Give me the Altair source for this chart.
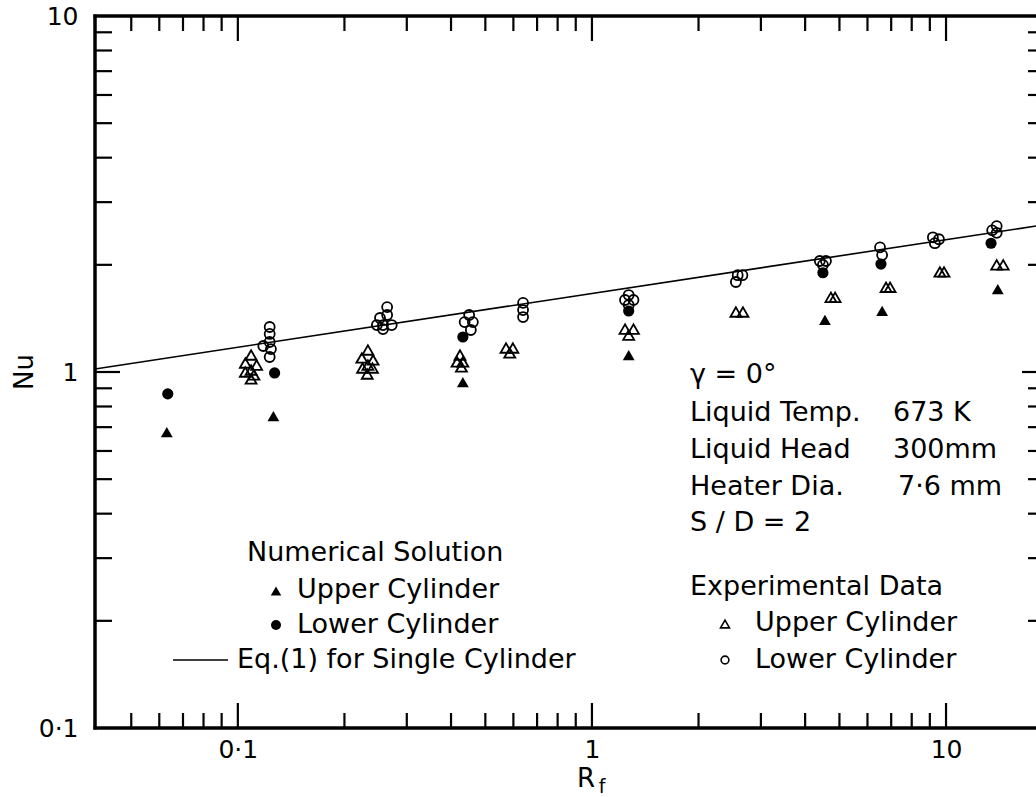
import altair as alt
import pandas as pd

# ---- data: Nu vs Rf, S/D = 2 ----
exp_upper_rf = [0.109, 0.105, 0.113, 0.109, 0.105, 0.111, 0.109,
                0.233, 0.224, 0.241, 0.233, 0.225, 0.240, 0.232,
                0.424, 0.416, 0.432, 0.428,
                0.572, 0.598, 0.586,
                1.24, 1.31, 1.27,
                2.55, 2.67,
                4.73, 4.86,
                6.77, 6.95,
                9.61, 9.87,
                13.9, 14.5]
exp_upper_nu = [1.116, 1.060, 1.046, 1.013, 1.000, 0.981, 0.956,
                1.153, 1.095, 1.081, 1.046, 1.026, 1.026, 0.987,
                1.116, 1.067, 1.067, 1.033,
                1.168, 1.168, 1.131,
                1.32, 1.32, 1.27,
                1.474, 1.474,
                1.62, 1.62,
                1.73, 1.73,
                1.91, 1.91,
                2.00, 2.00]

exp_lower_rf = [0.123, 0.123, 0.123, 0.118, 0.124, 0.123,
                0.264, 0.264, 0.252, 0.247, 0.257, 0.272, 0.257,
                0.450, 0.437, 0.461, 0.455,
                0.639, 0.639, 0.639,
                1.27, 1.24, 1.31, 1.27,
                2.58, 2.66, 2.55,
                4.40, 4.58, 4.49,
                6.51, 6.60,
                9.18, 9.55, 9.30,
                13.5, 13.9, 13.9]
exp_lower_nu = [1.338, 1.279, 1.214, 1.183, 1.160, 1.102,
                1.522, 1.446, 1.418, 1.355, 1.355, 1.355, 1.320,
                1.446, 1.381, 1.381, 1.312,
                1.563, 1.493, 1.427,
                1.645, 1.593, 1.593, 1.542,
                1.87, 1.87, 1.79,
                2.05, 2.05, 2.00,
                2.24, 2.13,
                2.39, 2.36, 2.30,
                2.50, 2.57, 2.46]

num_upper_rf = [0.063, 0.126, 0.432, 1.27, 4.55, 6.60, 14.0]
num_upper_nu = [0.678, 0.752, 0.937, 1.116, 1.40, 1.484, 1.71]

num_lower_rf = [0.0634, 0.127, 0.432, 1.27, 4.49, 6.55, 13.4]
num_lower_nu = [0.868, 0.994, 1.254, 1.484, 1.90, 2.01, 2.30]

# Eq.(1) for a single cylinder (straight line on log-log axes)
eq1_rf = [0.0395, 17.95]
eq1_nu = [1.02, 2.57]

# axis ticks
x_minor = [0.05, 0.06, 0.07, 0.08, 0.09,
           0.2, 0.3, 0.4, 0.5, 0.6, 0.7, 0.8, 0.9,
           2, 3, 4, 5, 6, 7, 8, 9]
x_major = [0.1, 1, 10]
y_minor = [0.2, 0.3, 0.4, 0.5, 0.6, 0.7, 0.8, 0.9,
           2, 3, 4, 5, 6, 7, 8, 9]
y_major = [1]
tick_values = [0.1, 1, 10]

# ---- layout ----
W, H = 941, 712
LEFT, TOP = 95, 16
FONT = "DejaVu Sans"

xs = alt.Scale(type="log", domain=[0.0395, 17.95], nice=False)
ys = alt.Scale(type="log", domain=[0.1, 10], nice=False)

label_expr = "datum.value < 0.5 ? '0·1' : (datum.value < 5 ? '1' : '10')"

x_axis = alt.Axis(values=tick_values, labelExpr=label_expr, ticks=False, tickSize=0,
                  domain=False, grid=False, labelPadding=9, labelFontSize=25,
                  labelFont=FONT, labelColor="black", title=None, labelFlush=False,
                  labelOverlap=False, labelBaseline="top")
y_axis = alt.Axis(values=tick_values, labelExpr=label_expr, ticks=False, tickSize=0,
                  domain=False, grid=False, labelPadding=17, labelFontSize=25,
                  labelFont=FONT, labelColor="black", title=None, labelFlush=False,
                  labelOverlap=False, labelAlign="right", labelBaseline="middle")


def X():
    return alt.X("rf:Q", scale=xs, axis=x_axis)


def Y():
    return alt.Y("nu:Q", scale=ys, axis=y_axis)


def frame(rf, nu):
    return pd.DataFrame({"rf": rf, "nu": nu})


one = pd.DataFrame({"a": [0]})

# ---- frame (left, top, bottom) ----
frame_lines = [
    alt.Chart(one).mark_rule(color="black", strokeWidth=3.5).encode(
        x=alt.value(0), y=alt.value(-1.5), y2=alt.value(H + 1.5)),
    alt.Chart(one).mark_rule(color="black", strokeWidth=3.5).encode(
        x=alt.value(-1.5), x2=alt.value(W + 10), y=alt.value(0)),
    alt.Chart(one).mark_rule(color="black", strokeWidth=3.5).encode(
        x=alt.value(-1.5), x2=alt.value(W + 10), y=alt.value(H)),
]


def xticks(vals, length):
    d = pd.DataFrame({"rf": vals})
    bottom = alt.Chart(d).mark_rule(color="black", strokeWidth=2.2).encode(
        x=X(), y=alt.value(H), y2=alt.value(H - length))
    top = alt.Chart(d).mark_rule(color="black", strokeWidth=2.2).encode(
        x=X(), y=alt.value(0), y2=alt.value(length))
    return [bottom, top]


def yticks(vals, length, right_len):
    d = pd.DataFrame({"nu": vals})
    left = alt.Chart(d).mark_rule(color="black", strokeWidth=2.2).encode(
        y=Y(), x=alt.value(0), x2=alt.value(length))
    right = alt.Chart(d).mark_rule(color="black", strokeWidth=2.2).encode(
        y=Y(), x=alt.value(W + 8), x2=alt.value(W - right_len))
    return [left, right]


ticks = (xticks(x_minor, 15) + xticks(x_major, 25)
         + yticks(y_minor, 17, 8) + yticks(y_major, 25, 14))

# ---- data marks ----
eq_line = alt.Chart(frame(eq1_rf, eq1_nu)).mark_line(
    color="black", strokeWidth=1.6).encode(x=X(), y=Y())

open_tri = alt.Chart(frame(exp_upper_rf, exp_upper_nu)).mark_point(
    shape="triangle-up", filled=False, color="black", strokeWidth=1.8,
    size=120, opacity=1).encode(x=X(), y=Y())

open_circ = alt.Chart(frame(exp_lower_rf, exp_lower_nu)).mark_point(
    shape="circle", filled=False, color="black", strokeWidth=1.8,
    size=100, opacity=1).encode(x=X(), y=Y())

full_tri = alt.Chart(frame(num_upper_rf, num_upper_nu)).mark_point(
    shape="triangle-up", filled=True, color="black", size=140,
    opacity=1).encode(x=X(), y=Y())

full_circ = alt.Chart(frame(num_lower_rf, num_lower_nu)).mark_point(
    shape="circle", filled=True, color="black", size=125,
    opacity=1).encode(x=X(), y=Y())


# ---- annotations ----
def note(text, x, y, size=27, align="left"):
    return alt.Chart(one).mark_text(
        font=FONT, fontSize=size, color="black", align=align,
        baseline="middle").encode(
        text=alt.value(text), x=alt.value(x - LEFT), y=alt.value(y - TOP))


def symbol(x, y, shape, filled, size):
    return alt.Chart(one).mark_point(
        shape=shape, filled=filled, color="black", size=size, opacity=1,
        strokeWidth=1.6).encode(x=alt.value(x - LEFT), y=alt.value(y - TOP))


notes = [
    note("γ = 0°", 690, 375),
    note("Liquid Temp.", 690, 413), note("673 K", 893, 413),
    note("Liquid Head", 690, 450), note("300mm", 893, 450),
    note("Heater Dia.", 690, 487), note("7·6 mm", 898, 487),
    note("S / D = 2", 690, 523),
    note("Experimental Data", 690, 587),
    symbol(725, 624, "triangle-up", False, 80), note("Upper Cylinder", 755, 623),
    symbol(725, 660, "circle", False, 60), note("Lower Cylinder", 755, 660),
    note("Numerical Solution", 247, 553),
    symbol(276, 591, "triangle-up", True, 110), note("Upper Cylinder", 297, 590),
    symbol(276, 625, "circle", True, 100), note("Lower Cylinder", 297, 625),
    alt.Chart(one).mark_rule(color="black", strokeWidth=1.6).encode(
        x=alt.value(173 - LEFT), x2=alt.value(228 - LEFT), y=alt.value(660 - TOP)),
    note("Eq.(1) for Single Cylinder", 237, 660),
    # axis titles
    alt.Chart(one).mark_text(font=FONT, fontSize=26, color="black", angle=270,
                             align="center", baseline="middle").encode(
        text=alt.value("Nu"), x=alt.value(25 - LEFT), y=alt.value(372 - TOP)),
    note("R", 586, 779, size=26, align="center"),
    note("f", 602, 787, size=19, align="center"),
]

chart = alt.layer(
    *frame_lines, *ticks, eq_line, open_circ, open_tri, full_circ, full_tri, *notes
).properties(
    width=W, height=H,
    padding={"left": LEFT, "top": TOP, "right": 0, "bottom": 797 - TOP - H},
    autosize=alt.AutoSizeParams(type="none"),
    background="white",
).configure_view(stroke=None)

chart.save("out.html", embed_options={"renderer": "svg", "actions": False})
